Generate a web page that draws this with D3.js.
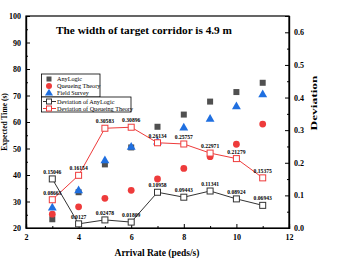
<!DOCTYPE html>
<html>
<head>
<meta charset="utf-8">
<script src="https://cdn.jsdelivr.net/npm/d3@7"></script>
<style>
body { margin: 0; background: #fff; }
svg text { font-family: "Liberation Serif", "Times New Roman", serif; }
</style>
</head>
<body>
<svg width="354" height="266"></svg>
<script>
// arrival rates (peds/s)
var rates = [3, 4, 5, 6, 7, 8, 9, 10, 11];
var anyLogic = [23.3, 33.5, 44.0, 50.4, 58.2, 62.8, 67.7, 71.3, 74.8];
var queueing = [25.2, 28.0, 31.2, 34.2, 38.5, 42.5, 46.9, 51.6, 59.2];
var fieldSurvey = [27.4, 33.9, 45.2, 50.3, 52.3, 57.6, 60.9, 65.6, 70.1];
var devAnyLogic = [0.15046, 0.0127, 0.02478, 0.01809, 0.10958, 0.09443, 0.11341, 0.08924, 0.06943];
var devQueueing = [0.08663, 0.16154, 0.30583, 0.30896, 0.26134, 0.25757, 0.22971, 0.21279, 0.15375];
var devLabelsA = ["0.15046", "0.0127", "0.02478", "0.01809", "0.10958", "0.09443", "0.11341", "0.08924", "0.06943"];
var devLabelsQ = ["0.08663", "0.16154", "0.30583", "0.30896", "0.26134", "0.25757", "0.22971", "0.21279", "0.15375"];

var svg = d3.select("svg");
var mLeft = 26, mRight = 289, mTop = 16, mBottom = 228;

var x = d3.scaleLinear().domain([2, 12]).range([mLeft, mRight]);
var y = d3.scaleLinear().domain([20, 100]).range([mBottom, mTop]);
var y2 = d3.scaleLinear().domain([0, 0.65]).range([mBottom, mTop]);

var grey = "#505050", red = "#ee3b3b", blue = "#1f6fe0";

// frame
svg.append("rect")
    .attr("x", mLeft).attr("y", mTop)
    .attr("width", mRight - mLeft).attr("height", mBottom - mTop)
    .attr("fill", "none").attr("stroke", "#000").attr("stroke-width", 1.2);

// minor ticks
function minor(axis, scale, vals) {
    return axis(scale).tickValues(vals).tickSize(-2).tickFormat("");
}

var gx = svg.append("g").attr("transform", "translate(0," + mBottom + ")");
gx.call(d3.axisBottom(x).tickValues([2, 4, 6, 8, 10, 12]).tickSize(-4).tickPadding(6));
gx.append("g").call(minor(d3.axisBottom, x, [3, 5, 7, 9, 11]));

var gy = svg.append("g").attr("transform", "translate(" + mLeft + ",0)");
gy.call(d3.axisLeft(y).tickValues(d3.range(20, 101, 10)).tickSize(-4).tickPadding(5));
gy.append("g").call(minor(d3.axisLeft, y, d3.range(25, 100, 10)));

var gy2 = svg.append("g").attr("transform", "translate(" + mRight + ",0)");
gy2.call(d3.axisRight(y2).tickValues(d3.range(0, 0.61, 0.1)).tickSize(-4).tickPadding(5).tickFormat(d3.format(".1f")));
gy2.append("g").call(minor(d3.axisRight, y2, [0.05, 0.15, 0.25, 0.35, 0.45, 0.55]));

svg.selectAll(".domain").attr("stroke", "#000").attr("stroke-width", 1.2);
svg.selectAll(".tick line").attr("stroke", "#000");
svg.selectAll(".tick text").attr("font-size", 8).attr("font-weight", "bold").attr("fill", "#000")
    .style("font-family", "Liberation Serif, serif");

// axis titles
svg.append("text").attr("x", 157).attr("y", 256).attr("text-anchor", "middle")
    .attr("font-size", 9.5).attr("font-weight", "bold").text("Arrival Rate (peds/s)");
svg.append("text").attr("transform", "translate(7,122) rotate(-90)").attr("text-anchor", "middle")
    .attr("font-size", 7.5).attr("font-weight", "bold").text("Expected Time (s)");
svg.append("text").attr("transform", "translate(316.5,103) rotate(-90)").attr("text-anchor", "middle")
    .attr("font-size", 9).attr("font-weight", "bold")
    .attr("textLength", 55).attr("lengthAdjust", "spacingAndGlyphs").text("Deviation");

// title
svg.append("text").attr("x", 144).attr("y", 34).attr("text-anchor", "middle")
    .attr("font-size", 10.5).attr("font-weight", "bold")
    .attr("textLength", 176).attr("lengthAdjust", "spacingAndGlyphs")
    .text("The width of target corridor is 4.9 m");

// scatter series
svg.append("g").selectAll("rect").data(rates).enter().append("rect")
    .attr("x", function(d) { return x(d) - 3; })
    .attr("y", function(d, i) { return y(anyLogic[i]) - 3; })
    .attr("width", 6).attr("height", 6).attr("fill", grey);

svg.append("g").selectAll("circle").data(rates).enter().append("circle")
    .attr("cx", function(d) { return x(d); })
    .attr("cy", function(d, i) { return y(queueing[i]); })
    .attr("r", 3.4).attr("fill", red);

var tri = d3.symbol().type(d3.symbolTriangle).size(34);
svg.append("g").selectAll("path").data(rates).enter().append("path")
    .attr("d", tri)
    .attr("transform", function(d, i) { return "translate(" + x(d) + "," + (y(fieldSurvey[i]) - 0.5) + ")"; })
    .attr("fill", blue);

// deviation lines
function devSeries(vals, labels, color) {
    var line = d3.line()
        .x(function(d, i) { return x(rates[i]); })
        .y(function(d) { return y2(d); });
    svg.append("path").datum(vals).attr("d", line)
        .attr("fill", "none").attr("stroke", color).attr("stroke-width", 1);
    svg.append("g").selectAll("rect").data(vals).enter().append("rect")
        .attr("x", function(d, i) { return x(rates[i]) - 3; })
        .attr("y", function(d) { return y2(d) - 3; })
        .attr("width", 6).attr("height", 6)
        .attr("fill", "#fff").attr("stroke", color).attr("stroke-width", 1);
    svg.append("g").selectAll("text").data(vals).enter().append("text")
        .attr("x", function(d, i) { return x(rates[i]); })
        .attr("y", function(d) { return y2(d) - 5; })
        .attr("text-anchor", "middle").attr("font-size", 5.6).attr("font-weight", "bold")
        .text(function(d, i) { return labels[i]; });
}
devSeries(devAnyLogic, devLabelsA, "#333");
devSeries(devQueueing, devLabelsQ, red);

// legend
var lg = svg.append("g");
lg.append("rect").attr("x", 41.5).attr("y", 74).attr("width", 58.5).attr("height", 23)
    .attr("fill", "#fff").attr("stroke", "#000").attr("stroke-width", 0.8);
lg.append("rect").attr("x", 41.5).attr("y", 97).attr("width", 89.5).attr("height", 15)
    .attr("fill", "#fff").attr("stroke", "#000").attr("stroke-width", 0.8);

var lx = 49, tx = 57;
lg.append("rect").attr("x", lx - 2.5).attr("y", 76.5).attr("width", 5).attr("height", 5).attr("fill", grey);
lg.append("circle").attr("cx", lx).attr("cy", 86).attr("r", 3).attr("fill", red);
lg.append("path").attr("d", d3.symbol().type(d3.symbolTriangle).size(28))
    .attr("transform", "translate(" + lx + ",93.3)").attr("fill", blue);

[["#333", 101.5], [red, 108.5]].forEach(function(s) {
    lg.append("line").attr("x1", 43).attr("x2", 56).attr("y1", s[1]).attr("y2", s[1])
        .attr("stroke", s[0]).attr("stroke-width", 1);
    lg.append("rect").attr("x", lx - 2.5).attr("y", s[1] - 2.5).attr("width", 5).attr("height", 5)
        .attr("fill", "#fff").attr("stroke", s[0]).attr("stroke-width", 1);
});

var names = ["AnyLogic", "Queueing Theory", "Field Survey", "Deviation of AnyLogic", "Deviation of Queueing Theory"];
var ly = [79, 86, 93, 101.5, 108.5];
lg.selectAll("text").data(names).enter().append("text")
    .attr("x", tx).attr("y", function(d, i) { return ly[i] + 2.2; })
    .attr("font-size", 6.2).text(function(d) { return d; });
</script>
</body>
</html>
